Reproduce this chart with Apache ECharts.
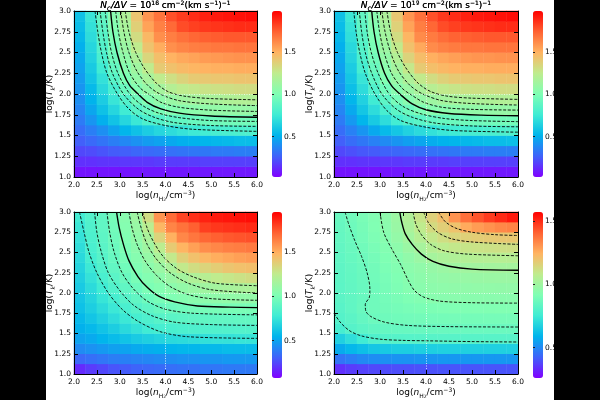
<!DOCTYPE html>
<html>
<head>
<meta charset="utf-8">
<script src="https://cdn.jsdelivr.net/npm/echarts@6/dist/echarts.min.js"></script>
<style>
  html, body { margin: 0; padding: 0; background: #fff; }
  #chart { width: 600px; height: 400px; }
</style>
</head>
<body>
<div id="chart"></div>
<script>
// bin centres of the colour map cells (log n, log T)
var xBins = [2.125, 2.375, 2.625, 2.875, 3.125, 3.375, 3.625, 3.875, 4.125, 4.375, 4.625, 4.875, 5.125, 5.375, 5.625, 5.875];
var yBins = [1.0625, 1.1875, 1.3125, 1.4375, 1.5625, 1.6875, 1.8125, 1.9375, 2.0625, 2.1875, 2.3125, 2.4375, 2.5625, 2.6875, 2.8125, 2.9375];
var cbTicks = [0.5, 1.0, 1.5];
var refX = 4.0, refY = 2.0;
var exps = ['16', '17', '18', '19'];

var range16 = [0.02, 1.99];
var range17 = [0.02, 1.99];
var range18 = [0.08, 1.95];
var range19 = [0.26, 1.57];

// rows from bottom (log T = 1.0625) to top
var field16 = [
  [0.07,0.07,0.07,0.07,0.07,0.07,0.08,0.08,0.08,0.08,0.08,0.08,0.08,0.08,0.08,0.08],
  [0.14,0.14,0.15,0.15,0.16,0.16,0.16,0.17,0.17,0.17,0.17,0.18,0.18,0.18,0.18,0.18],
  [0.20,0.21,0.23,0.25,0.26,0.28,0.29,0.30,0.31,0.32,0.33,0.33,0.34,0.34,0.35,0.35],
  [0.26,0.29,0.32,0.35,0.38,0.41,0.44,0.46,0.48,0.50,0.51,0.52,0.53,0.54,0.55,0.55],
  [0.30,0.35,0.40,0.46,0.52,0.57,0.62,0.66,0.69,0.72,0.75,0.77,0.79,0.80,0.81,0.815],
  [0.34,0.42,0.50,0.58,0.66,0.74,0.81,0.84,0.875,0.895,0.915,0.935,0.945,0.95,0.955,0.955],
  [0.37,0.47,0.57,0.66,0.76,0.85,0.915,0.98,1.02,1.035,1.05,1.07,1.08,1.085,1.09,1.09],
  [0.40,0.51,0.62,0.73,0.83,0.94,1.02,1.07,1.10,1.135,1.15,1.16,1.17,1.19,1.20,1.20],
  [0.42,0.54,0.67,0.79,0.92,1.02,1.09,1.15,1.21,1.25,1.27,1.29,1.30,1.31,1.32,1.32],
  [0.44,0.58,0.71,0.85,0.99,1.08,1.16,1.25,1.31,1.36,1.40,1.41,1.42,1.42,1.43,1.43],
  [0.46,0.61,0.76,0.90,1.03,1.13,1.25,1.40,1.44,1.47,1.49,1.50,1.51,1.51,1.52,1.52],
  [0.48,0.64,0.80,0.94,1.07,1.18,1.35,1.45,1.50,1.53,1.55,1.57,1.58,1.59,1.60,1.60],
  [0.50,0.66,0.83,0.97,1.11,1.25,1.43,1.52,1.61,1.64,1.66,1.67,1.68,1.68,1.69,1.69],
  [0.53,0.69,0.85,1.00,1.14,1.32,1.48,1.61,1.66,1.70,1.73,1.75,1.76,1.77,1.77,1.77],
  [0.55,0.71,0.87,1.02,1.17,1.38,1.55,1.65,1.72,1.80,1.83,1.85,1.86,1.87,1.88,1.88],
  [0.57,0.73,0.89,1.04,1.19,1.42,1.59,1.69,1.79,1.84,1.88,1.91,1.93,1.94,1.95,1.96]
];
var field17 = [
  [0.07,0.07,0.07,0.07,0.07,0.08,0.08,0.08,0.08,0.08,0.08,0.08,0.08,0.08,0.08,0.08],
  [0.14,0.14,0.15,0.15,0.16,0.16,0.17,0.17,0.17,0.17,0.18,0.18,0.18,0.18,0.18,0.18],
  [0.20,0.22,0.24,0.25,0.27,0.28,0.29,0.30,0.31,0.32,0.33,0.34,0.34,0.35,0.35,0.35],
  [0.26,0.30,0.33,0.36,0.39,0.42,0.45,0.47,0.49,0.51,0.52,0.53,0.54,0.55,0.55,0.56],
  [0.30,0.36,0.42,0.48,0.54,0.59,0.64,0.68,0.71,0.74,0.76,0.78,0.79,0.80,0.81,0.82],
  [0.34,0.43,0.52,0.61,0.69,0.77,0.83,0.86,0.89,0.91,0.925,0.94,0.945,0.95,0.955,0.96],
  [0.37,0.48,0.59,0.69,0.79,0.87,0.93,0.99,1.03,1.045,1.06,1.075,1.08,1.085,1.09,1.09],
  [0.40,0.52,0.64,0.76,0.87,0.97,1.04,1.09,1.12,1.145,1.16,1.17,1.18,1.19,1.20,1.20],
  [0.42,0.56,0.69,0.82,0.95,1.04,1.11,1.17,1.22,1.26,1.28,1.30,1.31,1.31,1.32,1.32],
  [0.44,0.59,0.73,0.87,1.01,1.10,1.18,1.26,1.32,1.37,1.40,1.41,1.42,1.42,1.43,1.43],
  [0.46,0.62,0.78,0.92,1.05,1.15,1.27,1.40,1.45,1.48,1.50,1.51,1.51,1.52,1.52,1.52],
  [0.48,0.65,0.81,0.95,1.08,1.20,1.36,1.46,1.51,1.54,1.56,1.58,1.59,1.59,1.60,1.60],
  [0.50,0.67,0.84,0.98,1.12,1.26,1.44,1.53,1.62,1.65,1.67,1.68,1.68,1.69,1.69,1.69],
  [0.53,0.70,0.86,1.00,1.14,1.32,1.49,1.62,1.67,1.71,1.74,1.75,1.76,1.77,1.77,1.77],
  [0.55,0.72,0.88,1.02,1.16,1.37,1.55,1.66,1.73,1.80,1.83,1.85,1.86,1.87,1.88,1.88],
  [0.57,0.74,0.89,1.04,1.18,1.41,1.59,1.70,1.79,1.85,1.88,1.91,1.93,1.94,1.95,1.96]
];
var field18 = [
  [0.18,0.22,0.25,0.28,0.30,0.32,0.33,0.34,0.35,0.36,0.36,0.37,0.37,0.38,0.38,0.38],
  [0.33,0.35,0.37,0.39,0.40,0.41,0.42,0.43,0.44,0.45,0.45,0.46,0.46,0.47,0.47,0.47],
  [0.43,0.45,0.47,0.49,0.50,0.52,0.53,0.54,0.55,0.56,0.56,0.57,0.57,0.58,0.58,0.58],
  [0.50,0.52,0.55,0.58,0.61,0.64,0.66,0.68,0.70,0.71,0.72,0.73,0.74,0.74,0.75,0.75],
  [0.54,0.57,0.61,0.65,0.70,0.74,0.78,0.805,0.815,0.825,0.832,0.838,0.843,0.847,0.85,0.851],
  [0.57,0.618,0.666,0.715,0.765,0.807,0.836,0.864,0.88,0.89,0.897,0.902,0.906,0.909,0.911,0.912],
  [0.60,0.655,0.71,0.765,0.816,0.86,0.893,0.924,0.945,0.96,0.97,0.978,0.985,0.99,0.992,0.994],
  [0.62,0.68,0.75,0.807,0.861,0.907,0.948,0.987,1.015,1.035,1.05,1.065,1.075,1.08,1.085,1.087],
  [0.64,0.71,0.78,0.846,0.90,0.951,1.0,1.03,1.06,1.087,1.11,1.135,1.15,1.16,1.17,1.18],
  [0.66,0.74,0.816,0.879,0.933,0.99,1.03,1.067,1.11,1.148,1.19,1.22,1.25,1.27,1.29,1.31],
  [0.68,0.77,0.844,0.904,0.961,1.015,1.06,1.11,1.17,1.26,1.31,1.35,1.38,1.41,1.43,1.44],
  [0.70,0.80,0.864,0.923,0.986,1.039,1.094,1.166,1.26,1.365,1.43,1.47,1.50,1.52,1.54,1.55],
  [0.72,0.818,0.879,0.938,1.005,1.06,1.13,1.234,1.39,1.48,1.54,1.59,1.61,1.63,1.64,1.65],
  [0.74,0.83,0.89,0.953,1.02,1.08,1.17,1.35,1.49,1.61,1.66,1.70,1.72,1.74,1.75,1.76],
  [0.76,0.84,0.90,0.966,1.033,1.104,1.23,1.47,1.62,1.67,1.72,1.80,1.82,1.83,1.84,1.85],
  [0.79,0.85,0.907,0.977,1.043,1.125,1.31,1.575,1.69,1.79,1.84,1.87,1.89,1.90,1.91,1.92]
];
var field19 = [
  [0.34,0.36,0.37,0.38,0.385,0.39,0.39,0.395,0.395,0.40,0.40,0.40,0.40,0.40,0.40,0.40],
  [0.46,0.48,0.50,0.51,0.515,0.52,0.52,0.525,0.525,0.53,0.53,0.53,0.53,0.53,0.53,0.53],
  [0.57,0.60,0.62,0.64,0.65,0.66,0.66,0.665,0.665,0.67,0.67,0.67,0.67,0.67,0.67,0.67],
  [0.67,0.71,0.75,0.79,0.805,0.808,0.81,0.812,0.813,0.814,0.814,0.815,0.815,0.815,0.815,0.815],
  [0.77,0.807,0.825,0.838,0.846,0.851,0.854,0.856,0.857,0.858,0.859,0.86,0.86,0.861,0.861,0.861],
  [0.805,0.824,0.845,0.865,0.872,0.877,0.881,0.884,0.886,0.888,0.889,0.89,0.89,0.891,0.891,0.891],
  [0.815,0.835,0.858,0.875,0.883,0.89,0.897,0.903,0.908,0.912,0.914,0.916,0.917,0.918,0.919,0.919],
  [0.822,0.838,0.853,0.873,0.886,0.899,0.912,0.924,0.935,0.938,0.94,0.941,0.942,0.942,0.943,0.943],
  [0.825,0.84,0.855,0.874,0.892,0.91,0.927,0.94,0.948,0.953,0.957,0.96,0.961,0.962,0.963,0.964],
  [0.828,0.842,0.858,0.878,0.897,0.916,0.936,0.95,0.96,0.967,0.973,0.977,0.98,0.982,0.984,0.985],
  [0.83,0.845,0.862,0.883,0.904,0.924,0.945,0.958,0.972,0.985,0.996,1.003,1.006,1.008,1.01,1.012],
  [0.835,0.852,0.868,0.89,0.913,0.934,0.96,0.985,1.012,1.03,1.04,1.047,1.052,1.055,1.057,1.059],
  [0.84,0.858,0.877,0.90,0.923,0.95,0.982,1.016,1.051,1.075,1.09,1.10,1.106,1.11,1.114,1.116],
  [0.845,0.862,0.886,0.91,0.932,0.968,1.005,1.052,1.089,1.12,1.145,1.16,1.17,1.178,1.183,1.186],
  [0.85,0.87,0.893,0.917,0.943,0.98,1.026,1.079,1.13,1.166,1.2,1.26,1.29,1.31,1.33,1.34],
  [0.855,0.876,0.899,0.921,0.95,0.988,1.04,1.10,1.157,1.21,1.31,1.38,1.43,1.47,1.50,1.53]
];

// contour lines, outermost first; index 3 is the solid one
var lines16 = [
  [[2.46,3.0],[2.52,2.75],[2.6,2.5],[2.72,2.25],[2.95,2.0],[3.2,1.82],[3.5,1.7],[4.0,1.62],[4.6,1.575],[6.0,1.55]],
  [[2.57,3.0],[2.63,2.75],[2.71,2.5],[2.84,2.25],[3.08,2.0],[3.4,1.82],[3.75,1.72],[4.2,1.655],[5.0,1.62],[6.0,1.61]],
  [[2.68,3.0],[2.74,2.75],[2.82,2.5],[2.96,2.25],[3.22,2.0],[3.5,1.86],[3.85,1.77],[4.3,1.715],[5.0,1.68],[6.0,1.67]],
  [[2.80,3.0],[2.85,2.75],[2.94,2.5],[3.08,2.25],[3.22,2.1],[3.4,2.0],[3.6,1.9],[3.9,1.82],[4.3,1.77],[5.0,1.735],[6.0,1.72]],
  [[2.91,3.0],[2.97,2.75],[3.07,2.5],[3.22,2.25],[3.45,2.07],[3.63,2.0],[3.9,1.9],[4.3,1.84],[5.0,1.805],[6.0,1.79]],
  [[3.02,3.0],[3.09,2.75],[3.2,2.5],[3.38,2.27],[3.62,2.1],[3.88,2.0],[4.3,1.92],[5.0,1.88],[6.0,1.86]],
  [[3.12,3.0],[3.2,2.75],[3.35,2.5],[3.55,2.3],[3.8,2.13],[4.05,2.03],[4.4,1.975],[5.0,1.945],[6.0,1.93]]
];
var lines17 = [
  [[2.43,3.0],[2.48,2.75],[2.56,2.5],[2.68,2.25],[2.89,2.0],[3.15,1.8],[3.45,1.68],[4.0,1.6],[4.6,1.56],[6.0,1.54]],
  [[2.55,3.0],[2.6,2.75],[2.68,2.5],[2.82,2.25],[3.04,2.0],[3.35,1.82],[3.7,1.72],[4.2,1.65],[5.0,1.615],[6.0,1.605]],
  [[2.67,3.0],[2.72,2.75],[2.81,2.5],[2.96,2.25],[3.2,2.0],[3.5,1.85],[3.9,1.76],[4.4,1.705],[5.0,1.68],[6.0,1.667]],
  [[2.82,3.0],[2.87,2.75],[2.96,2.5],[3.1,2.25],[3.25,2.1],[3.45,1.99],[3.7,1.88],[4.0,1.81],[4.5,1.765],[5.2,1.745],[6.0,1.738]],
  [[2.93,3.0],[2.99,2.75],[3.09,2.5],[3.25,2.25],[3.48,2.07],[3.68,1.99],[3.95,1.9],[4.35,1.84],[5.0,1.815],[6.0,1.806]],
  [[3.04,3.0],[3.11,2.75],[3.23,2.5],[3.41,2.27],[3.66,2.1],[3.93,2.0],[4.35,1.92],[5.0,1.885],[6.0,1.867]],
  [[3.15,3.0],[3.23,2.75],[3.38,2.5],[3.58,2.3],[3.83,2.13],[4.1,2.03],[4.45,1.975],[5.0,1.95],[6.0,1.935]]
];
var lines18 = [
  [[2.12,3.0],[2.22,2.75],[2.33,2.5],[2.5,2.25],[2.75,2.0],[3.05,1.8],[3.4,1.65],[3.9,1.52],[4.5,1.46],[6.0,1.44]],
  [[2.45,3.0],[2.5,2.75],[2.6,2.5],[2.75,2.25],[3.0,2.03],[3.3,1.85],[3.7,1.72],[4.2,1.64],[5.0,1.61],[6.0,1.60]],
  [[2.72,3.0],[2.78,2.75],[2.88,2.5],[3.05,2.25],[3.3,2.05],[3.6,1.9],[4.0,1.8],[4.6,1.75],[6.0,1.73]],
  [[2.93,3.0],[2.99,2.8],[3.08,2.6],[3.2,2.4],[3.4,2.2],[3.6,2.07],[3.85,1.96],[4.2,1.89],[4.7,1.84],[5.4,1.825],[6.0,1.82]],
  [[3.2,3.0],[3.27,2.8],[3.38,2.6],[3.55,2.4],[3.8,2.22],[4.1,2.08],[4.5,1.98],[5.0,1.93],[6.0,1.91]],
  [[3.38,3.0],[3.47,2.8],[3.6,2.6],[3.8,2.42],[4.1,2.25],[4.5,2.12],[5.0,2.04],[6.0,2.0]],
  [[3.5,3.0],[3.6,2.8],[3.75,2.62],[3.95,2.45],[4.25,2.3],[4.6,2.2],[5.1,2.12],[6.0,2.09]]
];
var lines19 = [
  [[2.0,1.75],[2.15,1.63],[2.35,1.53],[2.6,1.47],[3.0,1.43],[3.5,1.415],[4.0,1.41],[5.0,1.40],[6.0,1.395]],
  [[2.24,3.0],[2.32,2.85],[2.45,2.65],[2.6,2.45],[2.72,2.25],[2.78,2.05],[2.77,1.95],[2.68,1.86],[2.69,1.78],[2.8,1.71],[3.1,1.64],[3.6,1.60],[4.5,1.585],[6.0,1.58]],
  [[3.0,3.0],[3.08,2.75],[3.25,2.55],[3.45,2.35],[3.62,2.15],[3.75,2.03],[3.95,1.95],[4.3,1.9],[5.0,1.88],[6.0,1.875]],
  [[3.43,3.0],[3.47,2.88],[3.55,2.73],[3.7,2.6],[3.9,2.48],[4.15,2.39],[4.5,2.33],[5.0,2.295],[6.0,2.28]],
  [[3.72,3.0],[3.78,2.85],[3.9,2.72],[4.1,2.6],[4.4,2.52],[4.9,2.48],[6.0,2.46]],
  [[3.95,3.0],[4.05,2.87],[4.25,2.75],[4.55,2.67],[5.0,2.63],[6.0,2.6]],
  [[4.27,3.0],[4.42,2.88],[4.65,2.8],[5.0,2.75],[5.5,2.72],[6.0,2.71]]
];

var rainbow = ['#8000ff', '#4062fa', '#00b4ec', '#40ecd4', '#80ffb4', '#bfec8e', '#ffb462', '#ff6232', '#ff0000'];
var FONT = 'DejaVu Sans';
var H = 166;

var panels = [
  {left: 74, top: 11, width: 183, field: field16, lines: lines16, range: range16},
  {left: 334, top: 11, width: 184, field: field17, lines: lines17, range: range17},
  {left: 74, top: 212, width: 183, field: field18, lines: lines18, range: range18},
  {left: 334, top: 212, width: 184, field: field19, lines: lines19, range: range19}
];

function tok(size, lh, extra) {
  return Object.assign({fontSize: size, fontFamily: FONT, color: '#000', lineHeight: lh, fontWeight: 'normal'}, extra || {});
}
var richBase = {
  n: tok(9, 12),
  i: tok(9, 12, {fontStyle: 'italic'}),
  sp: tok(6, 7, {verticalAlign: 'top'}),
  sb: tok(6, 7, {verticalAlign: 'bottom'}),
  sbi: tok(6, 7, {verticalAlign: 'bottom', fontStyle: 'italic'}),
  ss: tok(4.5, 5, {verticalAlign: 'bottom'})
};

function yFmt(v) {
  return Math.round(v * 4) % 2 === 0 ? v.toFixed(1) : v.toFixed(2);
}

var grids = [], xAxes = [], yAxes = [], series = [], visualMaps = [], titles = [];
var tickLabel = {fontSize: 7.5, fontFamily: FONT, color: '#000'};
var black = {color: '#000', width: 1};

panels.forEach(function(p, k) {
  var g = grids.length;
  grids.push({left: p.left, top: p.top, width: p.width, height: H});
  var cbLeft = p.left + p.width + 15;
  var gc = grids.length;
  grids.push({left: cbLeft, top: p.top, width: 10, height: H});

  var xv = xAxes.length;
  xAxes.push({
    type: 'value', gridIndex: g, min: 2, max: 6, interval: 0.5, position: 'bottom', z: 5,
    axisLine: {show: true, onZero: false, lineStyle: black},
    axisTick: {inside: true, length: 4, lineStyle: black},
    axisLabel: Object.assign({margin: 4, formatter: function(v) { return v.toFixed(1); }}, tickLabel),
    splitLine: {show: false},
    name: '{n|log(}{i|n}{sb|H}{ss|2}{n|/cm}{sp|\u22123}{n|)}',
    nameLocation: 'middle', nameGap: 13, nameMoveOverlap: false,
    nameTextStyle: {fontWeight: 'normal', rich: richBase}
  });
  xAxes.push({
    type: 'value', gridIndex: g, min: 2, max: 6, interval: 0.5, position: 'top', z: 5,
    axisLine: {show: true, onZero: false, lineStyle: black},
    axisTick: {inside: true, length: 4, lineStyle: black},
    axisLabel: {show: false}, splitLine: {show: false}
  });
  var xc = xAxes.length;
  xAxes.push({type: 'category', gridIndex: g, data: xBins.map(String), show: false, boundaryGap: true});

  var yv = yAxes.length;
  yAxes.push({
    type: 'value', gridIndex: g, min: 1, max: 3, interval: 0.25, position: 'left', z: 5,
    axisLine: {show: true, onZero: false, lineStyle: black},
    axisTick: {inside: true, length: 4, lineStyle: black},
    axisLabel: Object.assign({margin: 3, formatter: yFmt}, tickLabel),
    splitLine: {show: false},
    name: '{n|log(}{i|T}{sbi|k}{n|/K)}',
    nameLocation: 'middle', nameGap: 18, nameMoveOverlap: false,
    nameTextStyle: {fontWeight: 'normal', rich: richBase}
  });
  yAxes.push({
    type: 'value', gridIndex: g, min: 1, max: 3, interval: 0.25, position: 'right', z: 5,
    axisLine: {show: true, onZero: false, lineStyle: black},
    axisTick: {inside: true, length: 4, lineStyle: black},
    axisLabel: {show: false}, splitLine: {show: false}
  });
  var yc = yAxes.length;
  yAxes.push({type: 'category', gridIndex: g, data: yBins.map(String), show: false, boundaryGap: true});

  // colour bar axis
  xAxes.push({type: 'value', gridIndex: gc, show: false});
  yAxes.push({
    type: 'value', gridIndex: gc, position: 'right', min: p.range[0], max: p.range[1], z: 6,
    axisLine: {show: false},
    axisTick: {show: true, length: 2, customValues: cbTicks, lineStyle: {color: '#222'}},
    axisLabel: Object.assign({margin: 2, customValues: cbTicks, formatter: function(v) { return v.toFixed(1); }}, tickLabel),
    splitLine: {show: false}
  });

  var heat = [];
  p.field.forEach(function(row, j) {
    row.forEach(function(v, i) { heat.push([i, j, v]); });
  });
  var hi = series.length;
  series.push({
    type: 'heatmap', xAxisIndex: xc, yAxisIndex: yc, data: heat, z: 1,
    progressive: 0, silent: true, emphasis: {disabled: true}
  });
  visualMaps.push({
    type: 'continuous', seriesIndex: hi, min: p.range[0], max: p.range[1],
    inRange: {color: rainbow}, left: cbLeft, top: p.top, itemWidth: 10, itemHeight: H,
    padding: 0, calculable: false, hoverLink: false, realtime: false
  });

  p.lines.forEach(function(line, n) {
    var solid = n === 3;
    var s = {
      type: 'line', xAxisIndex: xv, yAxisIndex: yv, data: line, z: 3,
      showSymbol: false, smooth: 0.3, silent: true, animation: false,
      lineStyle: {color: '#000', width: solid ? 1.4 : 0.9, type: solid ? 'solid' : [3, 1.6]}
    };
    if (n === 0) {
      s.markLine = {
        silent: true, symbol: ['none', 'none'], label: {show: false}, animation: false,
        lineStyle: {color: '#fff', type: [1, 1.5], width: 0.8, opacity: 0.9},
        data: [{xAxis: refX}, {yAxis: refY}]
      };
    }
    series.push(s);
  });

  titles.push({
    text: '{i|N}{sb|C}{i|/\u0394V}{n| = 10}{sp|' + exps[k] + '}{n| cm}{sp|\u22122}{n|(km s}{sp|\u22121}{n|)}{sp|\u22121}',
    left: p.left + p.width / 2, top: 0, padding: 0, textAlign: 'center',
    textStyle: {fontWeight: 'normal', rich: richBase}
  });
});

var chart = echarts.init(document.getElementById('chart'));
chart.setOption({
  animation: false,
  backgroundColor: '#fff',
  title: titles,
  grid: grids,
  xAxis: xAxes,
  yAxis: yAxes,
  visualMap: visualMaps,
  series: series,
  graphic: [
    {type: 'rect', left: 0, top: 0, z: 100, shape: {width: 46, height: 400}, style: {fill: '#000'}},
    {type: 'rect', left: 554, top: 0, z: 100, shape: {width: 46, height: 400}, style: {fill: '#000'}}
  ]
});
</script>
</body>
</html>
